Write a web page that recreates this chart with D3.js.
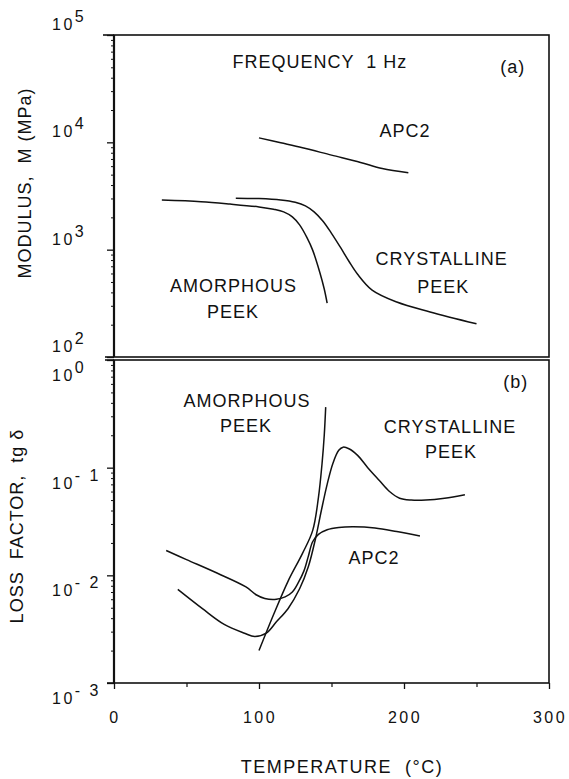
<!DOCTYPE html>
<html>
<head>
<meta charset="utf-8">
<script src="https://cdn.jsdelivr.net/npm/d3@7"></script>
<style>
  body { margin: 0; background: #fff; }
  text { font-family: "Liberation Sans", Arial, Helvetica, sans-serif; fill: #111; white-space: pre; }
  .lbl { font-size: 18px; letter-spacing: 1px; }
  .tickLbl { font-size: 16px; letter-spacing: 2.5px; }
</style>
</head>
<body>
<script>
// temperature axis (deg C)
const tempMajor = [0, 100, 200, 300];
const tempMinor = [50, 150, 250];

// (a) modulus, MPa  -> [temperature, M]
const modApc2 = [[100, 11000], [115, 9900], [130, 8900], [150, 7600], [170, 6500], [185, 5700], [203, 5200]];
const modAmorph = [[33, 2900], [60, 2800], [80, 2660], [100, 2500], [110, 2380], [117, 2250], [123, 2020],
                   [128, 1700], [133, 1300], [137, 990], [142, 610], [145, 430], [147, 318]];
const modCryst = [[84, 3020], [100, 2990], [115, 2900], [125, 2760], [132, 2560], [138, 2250], [144, 1850],
                  [150, 1420], [156, 1060], [162, 780], [168, 590], [178, 420], [195, 325], [218, 263], [250, 204]];

// (b) loss factor tg delta -> [temperature, tg d]
const lossApc2 = [[36, 0.017], [50, 0.014], [71, 0.0105], [91, 0.0078], [98, 0.0066], [104, 0.0061],
                  [112, 0.0060], [118, 0.0063], [123, 0.0070], [127, 0.0085], [131, 0.011], [134, 0.015],
                  [137, 0.0205], [141, 0.024], [147, 0.0265], [155, 0.0278], [165, 0.0282], [180, 0.0275],
                  [195, 0.0255], [211, 0.0232]];
const lossAmorph = [[100, 0.002], [110, 0.0043], [120, 0.0088], [130, 0.016], [137, 0.026], [141, 0.053],
                    [143.5, 0.11], [145, 0.2], [146, 0.365]];
const lossCryst = [[44, 0.0074], [61, 0.0049], [76, 0.0035], [90, 0.0029], [97, 0.0027], [105, 0.0029],
                   [112, 0.0037], [120, 0.0049], [128, 0.0075], [134, 0.012], [139, 0.022], [143, 0.04],
                   [147, 0.07], [151, 0.11], [155, 0.145], [158, 0.155], [162, 0.15], [168, 0.13],
                   [175, 0.1], [183, 0.076], [190, 0.06], [197, 0.052], [205, 0.05], [215, 0.05],
                   [228, 0.052], [242, 0.056]];

// decade tick labels
const modDecades = [2, 3, 4, 5];
const lossDecades = [0, -1, -2, -3];

// annotations: [text, temperature, value]
const modNotes = [["FREQUENCY  1 Hz", 142, 49300], ["(a)", 275, 44300], ["APC2", 200.7, 11200],
                  ["CRYSTALLINE", 226, 720], ["PEEK", 227, 395], ["AMORPHOUS", 82.4, 404], ["PEEK", 82, 231]];
const lossNotes = [["(b)", 277, 0.548], ["AMORPHOUS", 91.7, 0.365], ["PEEK", 91, 0.213],
                   ["CRYSTALLINE", 231.7, 0.209], ["PEEK", 232.4, 0.122], ["APC2", 179.3, 0.0128]];

const svg = d3.select("body").append("svg")
    .attr("width", 569)
    .attr("height", 779);

// scales
const x = d3.scaleLinear().domain([0, 300]).range([114, 549]);
const yTop = d3.scaleLog().domain([1e2, 1e5]).range([357, 35]);
const yBot = d3.scaleLog().domain([1e-3, 1]).range([683, 360]);

function minorTicks(lo, hi) {
    let out = [];
    for (let e = lo; e < hi; e++) for (let k = 2; k <= 9; k++) out.push(k * Math.pow(10, e));
    return out;
}

function drawPanel(y, decades, series, notes, labelOffset) {
    const g = svg.append("g");

    // left axis ticks
    g.append("g")
        .attr("transform", "translate(" + x(0) + ",0)")
        .call(d3.axisLeft(y).tickValues(decades.map(e => Math.pow(10, e))).tickSize(7).tickFormat(""))
        .call(a => a.select(".domain").remove())
        .selectAll("line").attr("stroke", "#111").attr("stroke-width", 1.3);

    const d = y.domain();
    g.append("g")
        .attr("transform", "translate(" + x(0) + ",0)")
        .call(d3.axisLeft(y).tickValues(minorTicks(Math.round(Math.log10(d[0])), Math.round(Math.log10(d[1])))).tickSize(3).tickFormat(""))
        .call(a => a.select(".domain").remove())
        .selectAll("line").attr("stroke", "#111").attr("stroke-width", 1);

    // frame
    const r = y.range();
    g.append("rect")
        .attr("x", x(0)).attr("y", r[1])
        .attr("width", x(300) - x(0)).attr("height", r[0] - r[1])
        .attr("fill", "none").attr("stroke", "#111").attr("stroke-width", 1.6);
    g.append("line")
        .attr("x1", x(0)).attr("x2", x(0)).attr("y1", r[1]).attr("y2", r[0])
        .attr("stroke", "#111").attr("stroke-width", 2.2);

    // decade labels 10^n
    decades.forEach(e => {
        const t = g.append("text").attr("class", "tickLbl")
            .attr("x", 52).attr("y", y(Math.pow(10, e)) + labelOffset);
        t.append("tspan").text("10");
        t.append("tspan").attr("dy", -8).text(e < 0 ? "- " + (-e) : e);
    });

    // curves
    const line = d3.line()
        .x(p => x(p[0]))
        .y(p => y(p[1]))
        .curve(d3.curveCatmullRom.alpha(0.5));
    series.forEach(s => {
        g.append("path")
            .datum(s)
            .attr("d", line)
            .attr("fill", "none")
            .attr("stroke", "#111")
            .attr("stroke-width", 1.5);
    });

    // annotations
    notes.forEach(n => {
        g.append("text").attr("class", "lbl")
            .attr("x", x(n[1])).attr("y", y(n[2]))
            .attr("text-anchor", "middle")
            .text(n[0]);
    });
}

drawPanel(yTop, modDecades, [modApc2, modAmorph, modCryst], modNotes, -5);
drawPanel(yBot, lossDecades, [lossApc2, lossAmorph, lossCryst], lossNotes, 21);

// extended border lines on the left
[[yTop(1e5), 103], [yTop(1e2), 105], [yBot(1), 105], [yBot(1e-3), 107]].forEach(l => {
    svg.append("line")
        .attr("x1", l[1]).attr("x2", x(0))
        .attr("y1", l[0]).attr("y2", l[0])
        .attr("stroke", "#111").attr("stroke-width", 1.6);
});

// temperature axis
svg.append("g")
    .attr("transform", "translate(0," + yBot(1e-3) + ")")
    .call(d3.axisBottom(x).tickValues(tempMajor).tickSize(6).tickFormat(""))
    .call(a => a.select(".domain").remove())
    .selectAll("line").attr("stroke", "#111").attr("stroke-width", 1.3);
svg.append("g")
    .attr("transform", "translate(0," + yBot(1e-3) + ")")
    .call(d3.axisBottom(x).tickValues(tempMinor).tickSize(4).tickFormat(""))
    .call(a => a.select(".domain").remove())
    .selectAll("line").attr("stroke", "#111").attr("stroke-width", 1.2);

svg.selectAll(".xLbl")
    .data(tempMajor)
    .enter()
    .append("text")
    .attr("class", "tickLbl xLbl")
    .attr("x", t => x(t) + 1)
    .attr("y", 723)
    .attr("text-anchor", "middle")
    .text(t => t);

// axis titles
svg.append("text").attr("class", "lbl")
    .attr("transform", "translate(31,183) rotate(-90)")
    .attr("text-anchor", "middle")
    .text("MODULUS,  M (MPa)");

svg.append("text").attr("class", "lbl")
    .attr("transform", "translate(23,526) rotate(-90)")
    .attr("text-anchor", "middle")
    .text("LOSS  FACTOR,  tg δ");

svg.append("text").attr("class", "lbl")
    .attr("x", 342).attr("y", 773)
    .attr("text-anchor", "middle")
    .style("letter-spacing", "1.5px")
    .text("TEMPERATURE  (°C)");
</script>
</body>
</html>
